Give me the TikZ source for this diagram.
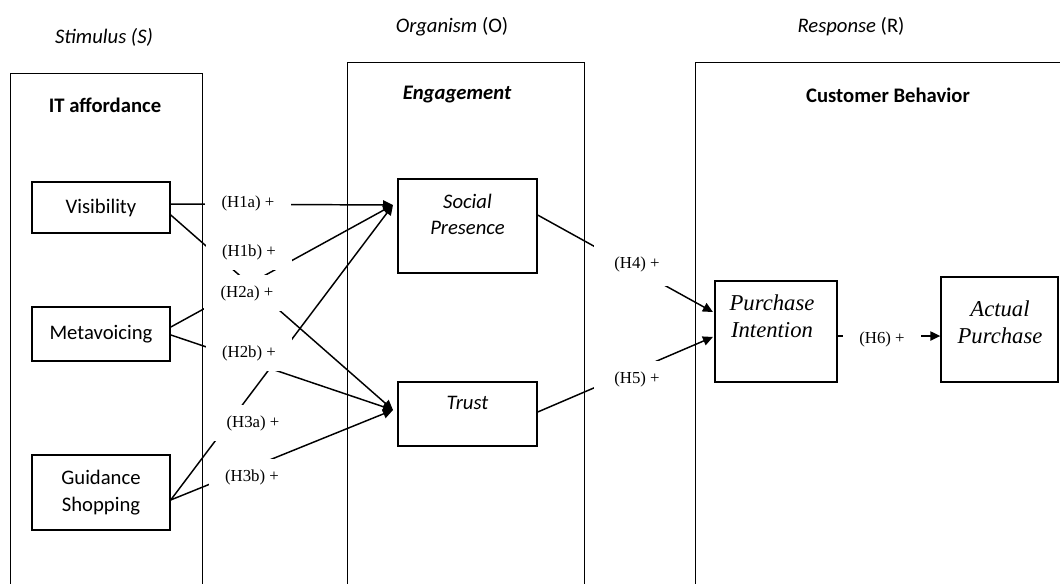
\documentclass[tikz,border=0pt]{standalone}
\usepackage{fontspec}
\setmainfont{Liberation Serif}
\newfontfamily\carlito{Carlito}
\usepackage{tikz}
\usetikzlibrary{arrows.meta,positioning,calc}
\tikzset{
  colbox/.style ={draw, line width=1.1pt, inner sep=0pt, anchor=north west},
  ivbox/.style  ={draw, line width=1.1pt, inner sep=0pt, minimum width=103.5pt,
                  align=center, font=\carlito\fontsize{15.5}{20}\selectfont},
  ivtxt/.style  ={inner sep=0pt, align=center,
                  font=\carlito\itshape\fontsize{15.5}{19}\selectfont},
  dvtxt/.style  ={inner sep=0pt, align=center,
                  font=\itshape\fontsize{17}{20.5}\selectfont},
  head/.style   ={inner sep=0pt, font=\carlito\bfseries\fontsize{15.5}{19}\selectfont},
  stage/.style  ={inner sep=0pt, font=\carlito\fontsize{15.5}{19}\selectfont},
  hyp/.style    ={fill=white, inner sep=0pt, minimum width=64.5pt,
                  minimum height=27pt, font=\fontsize{12.6}{15}\selectfont},
  arr/.style    ={-{Triangle[length=7.5pt, width=7pt]}, line width=1.1pt},
}
\begin{document}
\begin{tikzpicture}[x=0.75pt, y=-0.75pt]
  \useasboundingbox (0,0) rectangle (1060,584);
  \clip (0,0) rectangle (1060,584);

  % stage headings
  \node[stage] (stim) at (104,37)  {\itshape Stimulus (S)};
  \node[stage] (orga) at (452,27)  {\textit{Organism} (O)};
  \node[stage] (resp) at (851,27)  {\textit{Response} (R)};

  % columns
  \node[colbox, minimum width=144pt,    minimum height=400pt] (colS) at (10,73)  {};
  \node[colbox, minimum width=177.75pt, minimum height=410pt] (colO) at (347,62) {};
  \node[colbox, minimum width=285pt,    minimum height=410pt] (colR) at (695,62) {};
  \node[head] (itaff) at (105,105) {IT affordance};
  \node[head] (engag) at (457,95)  {\itshape Engagement};
  \node[head] (custb) at (888,95)  {Customer Behavior};

  % constructs
  \node[ivbox, minimum height=38.25pt] (vis)  at (101,207.5) {Visibility};
  \node[ivbox, minimum height=40.5pt]  (meta) at (101,334)   {Metavoicing};
  \node[ivbox, minimum height=56.25pt] (guid) at (101,492.5) {Guidance\\Shopping};
  \node[ivbox, minimum width=104.25pt, minimum height=70.5pt] (sp) at (467.5,226) {};
  \node[ivtxt] (sptxt) at (467.5,214.5) {Social\\Presence};
  \node[ivbox, minimum width=104.25pt, minimum height=48pt] (tr) at (467.5,414) {};
  \node[ivtxt] (trtxt) at (467.5,403) {Trust};
  \node[ivbox, minimum width=91.5pt, minimum height=75.75pt] (pi) at (776,331.5) {};
  \node[dvtxt] (pitxt) at (772,316.5) {Purchase\\Intention};
  \node[ivbox, minimum width=87.75pt, minimum height=78.75pt] (ap) at (999.5,329.5) {};
  \node[dvtxt] (aptxt) at (1000,322.5) {Actual\\Purchase};

  \coordinate (spin) at (393,205);
  \coordinate (trin) at (393,410);

  % paths
  \draw[arr] ([yshift=2.6pt]vis.east) -- (spin);
  \draw[arr] ([yshift=-5.6pt]vis.east) -- (trin);
  \draw[arr] ([yshift=5.2pt]meta.east) -- (spin);
  \draw[arr] ([yshift=-0.7pt]meta.east) -- (trin);
  \draw[arr] ([yshift=-5.6pt]guid.east) -- (spin);
  \draw[arr] ([yshift=-5.6pt]guid.east) -- (trin);
  \draw[arr] ([yshift=8.2pt]sp.east) -- ([xshift=-1pt,yshift=14.6pt]pi.west);
  \draw[arr] ([yshift=1.5pt]tr.east) -- ([xshift=-1pt,yshift=-4.1pt]pi.west);
  \draw[arr] ([yshift=-3.4pt]pi.east) -- ([yshift=-3.4pt]pi.east -| ap.west);

  % hypothesis labels
  \node[hyp] (h1a) at (248,203) {(H1a) +};
  \node[hyp] (h1b) at (249,252) {(H1b) +};
  \node[hyp] (h2a) at (247,293) {(H2a) +};
  \node[hyp] (h2b) at (249,353) {(H2b) +};
  \node[hyp] (h3a) at (253,423) {(H3a) +};
  \node[hyp] (h3b) at (252,477) {(H3b) +};
  \node[hyp, minimum height=33pt] (h4) at (637,264) {(H4) +};
  \node[hyp] (h5) at (637,379) {(H5) +};
  \node[hyp, minimum width=59pt] (h6) at (882,339) {(H6) +};
\end{tikzpicture}
\end{document}
